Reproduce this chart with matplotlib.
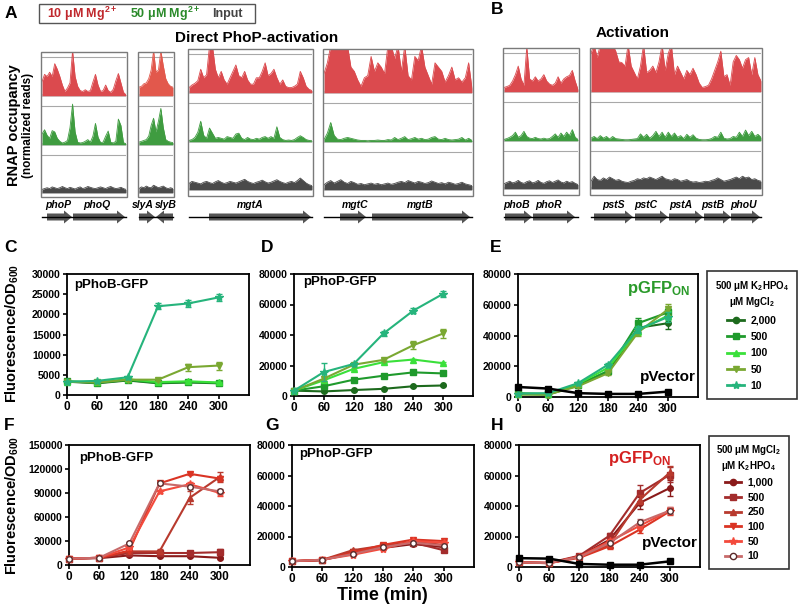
import numpy as np
import matplotlib
matplotlib.use('Agg')
import matplotlib.pyplot as plt
from matplotlib.patches import Rectangle, FancyArrow
from matplotlib.lines import Line2D
from matplotlib.ticker import FormatStrFormatter

plt.rcParams['font.family'] = ['Liberation Sans', 'DejaVu Sans']
plt.rcParams['font.weight'] = 'bold'
plt.rcParams['mathtext.fontset'] = 'custom'
plt.rcParams['mathtext.rm'] = 'Liberation Sans:bold'
plt.rcParams['mathtext.bf'] = 'Liberation Sans:bold'
plt.rcParams['mathtext.it'] = 'Liberation Sans:bold:italic'
plt.rcParams['mathtext.default'] = 'bf'

# ---------------- RNAP coverage tracks (normalized reads) ----------------
red1 = [0.33,0.50,0.45,0.55,0.45,0.75,0.62,0.45,0.25,0.10,0.18,0.30,1.05,0.45,0.22,0.12,0.10,0.14,
        0.10,0.12,0.32,0.50,0.25,0.10,0.12,0.25,0.12,0.08,0.15,0.35,0.52,0.30,0.08,0.02]
green1 = [0.25,0.35,0.22,0.15,0.33,0.30,0.15,0.08,0.04,0.06,0.10,0.40,0.95,0.30,0.06,0.04,0.05,0.08,
          0.12,0.06,0.20,0.50,0.18,0.05,0.06,0.20,0.32,0.06,0.04,0.08,0.60,0.45,0.05,0.02]
gray1 = [0.08,0.10,0.12,0.10,0.14,0.12,0.10,0.12,0.15,0.12,0.10,0.13,0.11,0.09,0.12,0.14,0.10,0.12,
         0.15,0.13,0.11,0.10,0.12,0.14,0.12,0.10,0.13,0.15,0.12,0.10,0.11,0.13,0.10,0.08]

red2 = [0.20,0.22,0.28,0.30,0.40,0.60,1.05,0.55,0.60,1.05,0.70,0.40,0.28,0.22,0.20]
green2 = [0.06,0.08,0.10,0.12,0.20,0.45,0.62,0.30,0.55,0.85,0.40,0.12,0.08,0.06,0.05]
gray2 = [0.10,0.14,0.12,0.16,0.13,0.12,0.18,0.15,0.12,0.14,0.16,0.12,0.10,0.12,0.10]

red3 = [0.12,0.18,0.22,0.28,0.55,0.35,0.42,1.10,1.10,0.55,0.35,0.50,0.30,0.20,0.35,0.50,0.65,0.40,
        0.35,0.50,0.30,0.20,0.20,0.35,0.35,0.50,0.70,0.40,0.45,0.55,0.35,0.20,0.30,0.15,0.12,0.12,
        0.15,0.20,0.50,0.35,0.15,0.08,0.05]
green3 = [0.03,0.05,0.10,0.22,0.48,0.15,0.08,0.32,0.20,0.08,0.10,0.08,0.06,0.12,0.10,0.08,0.18,0.20,
          0.08,0.05,0.10,0.06,0.05,0.08,0.06,0.10,0.12,0.08,0.12,0.08,0.35,0.10,0.05,0.03,0.04,0.03,
          0.05,0.10,0.14,0.10,0.05,0.03,0.02]
gray3 = [0.15,0.20,0.18,0.16,0.14,0.18,0.20,0.17,0.15,0.19,0.22,0.18,0.15,0.17,0.20,0.18,0.16,0.19,
         0.22,0.25,0.20,0.17,0.15,0.18,0.20,0.23,0.19,0.16,0.18,0.21,0.24,0.20,0.17,0.15,0.18,0.20,
         0.17,0.22,0.28,0.22,0.16,0.12,0.10]

red4 = [0.45,0.70,1.10,1.10,1.10,1.10,1.10,1.10,0.60,0.50,0.30,0.15,0.35,0.40,0.85,0.50,0.70,0.60,
        0.45,1.10,1.10,0.80,1.10,0.50,1.10,0.40,0.30,0.85,0.75,1.10,0.60,0.40,0.20,0.70,0.60,0.50,
        0.25,0.40,0.60,0.30,0.35,0.25,0.35,0.70,0.10]
green4 = [0.05,0.20,0.45,0.15,0.06,0.05,0.08,0.10,0.08,0.06,0.04,0.03,0.03,0.02,0.03,0.03,0.04,0.03,
          0.03,0.05,0.04,0.10,0.05,0.08,0.12,0.05,0.07,0.10,0.06,0.08,0.05,0.06,0.10,0.12,0.06,0.05,
          0.08,0.05,0.04,0.05,0.06,0.10,0.04,0.08,0.03]
gray4 = [0.12,0.18,0.22,0.16,0.20,0.24,0.18,0.15,0.20,0.17,0.13,0.15,0.12,0.14,0.16,0.13,0.15,0.12,
         0.14,0.16,0.13,0.15,0.18,0.20,0.17,0.22,0.19,0.16,0.20,0.18,0.15,0.17,0.21,0.18,0.15,0.17,
         0.14,0.18,0.16,0.13,0.15,0.18,0.14,0.12,0.10]

red5 = [0.10,0.12,0.15,0.25,0.40,0.60,0.30,0.15,1.05,0.30,0.25,0.35,0.25,0.30,0.40,0.25,0.18,0.15,
        0.20,0.35,0.20,0.30,0.35,0.38,0.50,0.25,0.05]
green5 = [0.03,0.05,0.08,0.12,0.20,0.08,0.12,0.22,0.10,0.06,0.05,0.08,0.05,0.04,0.06,0.04,0.05,0.10,
          0.16,0.08,0.18,0.10,0.20,0.12,0.26,0.08,0.03]
gray5 = [0.12,0.15,0.18,0.14,0.16,0.20,0.15,0.13,0.17,0.19,0.14,0.16,0.20,0.15,0.13,0.17,0.19,0.15,
         0.18,0.21,0.16,0.14,0.18,0.15,0.17,0.13,0.10]

red6 = [0.90,1.10,0.80,1.10,1.10,1.10,1.10,1.10,0.95,0.70,0.68,0.60,1.10,0.60,0.45,0.30,0.60,1.10,
        0.45,0.50,0.60,0.45,0.70,1.10,0.50,0.90,1.10,0.40,0.60,0.45,0.30,0.50,0.40,0.55,0.40,0.20,
        0.10,0.12,0.15,0.30,0.50,0.70,0.95,0.35,0.40,0.15,0.70,0.85,0.75,0.55,0.75,0.80,0.40,0.80,
        0.40,0.25]
green6 = [0.06,0.10,0.05,0.12,0.06,0.10,0.04,0.10,0.05,0.04,0.03,0.02,0.02,0.03,0.04,0.05,0.16,0.08,
          0.15,0.06,0.12,0.22,0.10,0.20,0.08,0.20,0.10,0.18,0.08,0.12,0.05,0.15,0.08,0.14,0.06,0.03,
          0.02,0.02,0.03,0.05,0.10,0.08,0.20,0.06,0.04,0.05,0.10,0.08,0.20,0.10,0.25,0.12,0.22,0.10,
          0.15,0.08]
gray6 = [0.18,0.30,0.22,0.20,0.26,0.22,0.28,0.24,0.20,0.22,0.18,0.16,0.15,0.18,0.20,0.24,0.22,0.26,
         0.24,0.28,0.25,0.22,0.26,0.30,0.24,0.22,0.20,0.24,0.22,0.18,0.20,0.22,0.18,0.16,0.17,0.15,
         0.16,0.18,0.17,0.20,0.22,0.26,0.22,0.18,0.20,0.22,0.25,0.28,0.24,0.30,0.26,0.28,0.22,0.24,
         0.20,0.18]

red_tracks = [red1, red2, red3, red4, red5, red6]
green_tracks = [green1, green2, green3, green4, green5, green6]
input_tracks = [gray1, gray2, gray3, gray4, gray5, gray6]

gene_names = ['phoP', 'phoQ', 'slyA', 'slyB', 'mgtA', 'mgtC', 'mgtB',
              'phoB', 'phoR', 'pstS', 'pstC', 'pstA', 'pstB', 'phoU']
gene_start = [47, 73, 139, 173, 209, 340, 372, 505, 533, 594, 635, 669, 704, 731]
gene_end = [72, 125, 155, 156, 311, 366, 470, 532, 575, 633, 668, 703, 731, 760]
gene_label_x = [58, 97, 143, 166, 250, 355, 420, 517, 549, 613, 646, 681, 713, 744]

# ---------------- GFP reporter time courses ----------------
times = [0, 60, 120, 180, 240, 300]
mg_labels = ['2,000', '500', '100', '50', '10']
pi_labels = ['1,000', '500', '250', '100', '50', '10']

C_mean = [[3300, 2900, 3600, 2900, 3100, 2900],
          [3400, 3000, 3700, 3000, 3200, 3000],
          [3300, 3200, 3900, 3200, 3400, 3100],
          [3300, 3100, 3800, 3800, 6900, 7300],
          [3300, 3500, 4400, 22000, 22700, 24200]]
C_err = [[200, 200, 300, 200, 200, 200],
         [200, 200, 300, 200, 200, 200],
         [200, 300, 300, 200, 300, 200],
         [200, 300, 300, 300, 900, 1000],
         [200, 300, 400, 700, 800, 800]]

D_mean = [[3500, 3000, 3900, 4700, 6400, 6900],
          [3500, 6400, 10700, 13300, 15500, 14800],
          [3500, 10300, 17800, 22200, 23900, 21500],
          [3500, 11400, 20500, 23700, 33300, 41000],
          [3500, 15700, 21000, 41000, 56000, 67000]]
D_err = [[300, 300, 300, 300, 400, 400],
         [300, 600, 600, 600, 600, 600],
         [300, 1000, 600, 600, 600, 600],
         [300, 1500, 800, 1000, 2500, 3000],
         [300, 6000, 800, 1500, 1500, 2000]]

E_mean = [[2000, 1500, 7500, 16000, 45000, 48000],
          [2500, 2000, 8000, 17000, 48000, 55000],
          [2000, 1800, 8500, 19000, 43000, 53000],
          [1500, 1600, 7000, 15500, 42000, 57000],
          [2200, 2500, 9000, 21000, 44000, 52000]]
E_err = [[300, 300, 600, 1000, 3000, 3500],
         [300, 300, 600, 1000, 3500, 3000],
         [300, 300, 600, 1000, 2500, 3000],
         [300, 300, 600, 1000, 2500, 3500],
         [300, 300, 600, 1000, 2500, 3000]]
E_vector = [6500, 5500, 2500, 2000, 2000, 3500]
E_vector_err = [500, 400, 300, 300, 300, 400]

F_mean = [[8000, 8500, 12000, 11000, 11000, 9000],
          [8000, 9000, 15000, 15000, 15000, 16000],
          [8000, 9000, 17000, 17000, 84000, 110000],
          [8000, 9000, 18000, 102000, 114000, 108000],
          [8000, 9000, 22000, 92000, 101000, 90000],
          [8000, 9000, 27000, 102000, 98000, 92000]]
F_err = [[800, 800, 1000, 1000, 1000, 1500],
         [800, 800, 1000, 1000, 1500, 4000],
         [800, 800, 1000, 3000, 8000, 6000],
         [800, 800, 1000, 2000, 2000, 3000],
         [800, 800, 1000, 2000, 3000, 4000],
         [800, 800, 1500, 2000, 3000, 3000]]

G_mean = [[3800, 4500, 9000, 12500, 15000, 13000],
          [3800, 4500, 10000, 13500, 16000, 11000],
          [3800, 4700, 11000, 14000, 16500, 14500],
          [3800, 4600, 9500, 14500, 18000, 17000],
          [3800, 4800, 8000, 12000, 17000, 16000],
          [3800, 4700, 8500, 13000, 16000, 14000]]
G_err = [[300, 300, 600, 600, 800, 800]] * 6

H_mean = [[3000, 2500, 7000, 17900, 42000, 51800],
          [3000, 2800, 7400, 20500, 48500, 60500],
          [3000, 2600, 6500, 14600, 44000, 62000],
          [3000, 2500, 6000, 13600, 24500, 36500],
          [3000, 2700, 6800, 16800, 27000, 37000],
          [3000, 2600, 6500, 15700, 29300, 37000]]
H_err = [[300, 300, 600, 1500, 4000, 5000],
         [300, 300, 600, 1500, 5000, 5000],
         [300, 300, 600, 1500, 3000, 4000],
         [300, 300, 600, 1500, 2000, 2500],
         [300, 300, 600, 1500, 2000, 2500],
         [300, 300, 600, 1500, 2000, 2500]]
H_vector = [5800, 5500, 2000, 1500, 1500, 3700]
H_vector_err = [500, 400, 300, 300, 300, 400]

green_cols = ['#1d6a1d', '#1f9a2c', '#3ae03a', '#7aa832', '#26b47c']
green_mk = ['o', 's', '^', 'v', '*']
red_cols = ['#8a1a1a', '#a32c2c', '#b83a2e', '#da3424', '#f34a3c', '#c86a6a']
red_mk = ['o', 's', '^', 'v', '*', 'o']

W, H = 800, 605
fig = plt.figure(figsize=(8, 6.05), dpi=100)


def pax(x0, y0, x1, y1):
    return fig.add_axes([x0 / W, 1 - y1 / H, (x1 - x0) / W, (y1 - y0) / H])


# boxes: left, right, top, bottom (pixels)
boxes = [(41, 127, 52, 197), (138, 174, 52, 197), (188, 313, 49, 196),
         (323, 473, 49, 196), (503, 579, 48, 195), (590, 762, 48, 195)]
track_cols = ['#db4a4e', '#3f9c40', '#4a4a4a']

for i, (x0, x1, top, bot) in enumerate(boxes):
    sets = [red_tracks[i], green_tracks[i], input_tracks[i]]
    rows = [(top + 1, top + 45), (top + 50, top + 94), (top + 99, top + 142)]
    for j, (vals, (t, b)) in enumerate(zip(sets, rows)):
        ax = pax(x0 + 1, t, x1 - 1, b)
        xs = np.arange(len(vals))
        c = track_cols[j]
        if i == 1 and j == 0:
            c = '#e2584c'
        ax.axhline(0.0, color='#cfcfcf', lw=3, zorder=0)
        ax.fill_between(xs, vals, color=c, lw=0, zorder=2)
        ax.plot(xs, vals, color=c, lw=0.6, zorder=2)
        ax.axhline(0.9, color='#a8a8a8', lw=0.8, zorder=1)
        ax.set_xlim(0, len(vals) - 1)
        ax.set_ylim(-0.03, 1.0)
        ax.axis('off')


def style(ax, ymax, ystep):
    ax.set_xlim(0, 360)
    ax.set_ylim(0, ymax)
    ax.set_xticks(times)
    ax.set_yticks(np.arange(0, ymax + 1, ystep))
    ax.yaxis.set_major_formatter(FormatStrFormatter('%d'))
    for s in ax.spines.values():
        s.set_linewidth(1.3)
    ax.tick_params(axis='both', length=3, width=1.2, direction='out', pad=1.5)
    ax.tick_params(axis='x', labelsize=8.5)
    ax.tick_params(axis='y', labelsize=7.5)
    for lab in ax.get_xticklabels() + ax.get_yticklabels():
        lab.set_fontweight('bold')


def draw(ax, means, errs, cols, mks, open_last=False):
    for k, (m, e) in enumerate(zip(means, errs)):
        mfc = cols[k]
        mec = cols[k]
        if open_last and k == len(means) - 1:
            mfc = 'white'
            mec = '#5a2a2a'
        ms = 6 if mks[k] == '*' else 4
        ax.errorbar(times, m, yerr=e, color=cols[k], marker=mks[k], ms=ms, mfc=mfc, mec=mec,
                    lw=1.5, elinewidth=1, capsize=2.5, clip_on=False, zorder=3 + k)


axC = pax(67, 274, 249, 395)
draw(axC, C_mean, C_err, green_cols, green_mk)
style(axC, 30000, 5000)

axD = pax(294, 274, 473, 396)
draw(axD, D_mean, D_err, green_cols, green_mk)
style(axD, 80000, 20000)

axE = pax(518, 274, 698, 397)
draw(axE, E_mean, E_err, green_cols, green_mk)
axE.errorbar(times, E_vector, yerr=E_vector_err, color='black', marker='s', ms=4.5, lw=1.8,
             elinewidth=1, capsize=2.5, clip_on=False, zorder=10)
style(axE, 80000, 20000)

axF = pax(69, 445, 250, 565)
draw(axF, F_mean, F_err, red_cols, red_mk, open_last=True)
style(axF, 150000, 30000)

axG = pax(292, 445, 474, 567)
draw(axG, G_mean, G_err, red_cols, red_mk, open_last=True)
style(axG, 80000, 20000)

axH = pax(519, 445, 700, 567)
draw(axH, H_mean, H_err, red_cols, red_mk, open_last=True)
axH.errorbar(times, H_vector, yerr=H_vector_err, color='black', marker='s', ms=4.5, lw=1.8,
             elinewidth=1, capsize=2.5, clip_on=False, zorder=10)
style(axH, 80000, 20000)

# legends
g_handles = [Line2D([], [], color=green_cols[k], marker=green_mk[k], lw=2,
                    ms=6 if green_mk[k] == '*' else 4.5) for k in range(5)]
legE = fig.legend(g_handles, mg_labels, title='500 μM K$_2$HPO$_4$\nμM MgCl$_2$',
                  loc='upper left', bbox_to_anchor=(707 / W, 1 - 271 / H), frameon=True,
                  fancybox=False, edgecolor='black', fontsize=7.5, title_fontsize=7,
                  handlelength=1.6, labelspacing=0.62, borderpad=0.75, handletextpad=0.6,
                  borderaxespad=0, alignment='center')
legE.get_frame().set_linewidth(1.2)
legE.get_title().set_fontweight('bold')
legE.get_title().set_multialignment('center')

r_handles = []
for k in range(6):
    mfc = 'white' if k == 5 else red_cols[k]
    mec = '#5a2a2a' if k == 5 else red_cols[k]
    r_handles.append(Line2D([], [], color=red_cols[k], marker=red_mk[k], lw=2, mfc=mfc, mec=mec,
                            ms=6 if red_mk[k] == '*' else 4.5))
legH = fig.legend(r_handles, pi_labels, title='500 μM MgCl$_2$\nμM K$_2$HPO$_4$',
                  loc='upper left', bbox_to_anchor=(709 / W, 1 - 436 / H), frameon=True,
                  fancybox=False, edgecolor='black', fontsize=7.5, title_fontsize=7,
                  handlelength=1.6, labelspacing=0.45, borderpad=0.7, handletextpad=0.6,
                  borderaxespad=0, alignment='center')
legH.get_frame().set_linewidth(1.2)
legH.get_title().set_fontweight('bold')
legH.get_title().set_multialignment('center')

# ---------------- overlay for annotations ----------------
ov = fig.add_axes([0, 0, 1, 1])
ov.set_xlim(0, W)
ov.set_ylim(H, 0)
ov.axis('off')
ov.patch.set_alpha(0)

for (x0, x1, top, bot) in boxes:
    ov.add_patch(Rectangle((x0, top), x1 - x0, bot - top, fill=False, ec='#7a7a7a', lw=1))
    ov.plot([x0 + 1, x1 - 1], [217, 217], color='black', lw=1)

for name, s, e, lx in zip(gene_names, gene_start, gene_end, gene_label_x):
    ov.add_patch(FancyArrow(s, 217, e - s, 0, width=7, head_width=13, head_length=8,
                            length_includes_head=True, color='#555555', lw=0))
    ov.text(lx, 205, name, ha='center', va='center', fontsize=7.5, style='italic',
            fontweight='bold')

# top legend for tracks
ov.add_patch(Rectangle((39, 4), 216, 19, fill=False, ec='#555555', lw=1))
ov.text(47, 14, '10 μM Mg$^{2+}$', color='#c0282d', fontsize=9, va='center')
ov.text(130, 14, '50 μM Mg$^{2+}$', color='#2a8a2a', fontsize=9, va='center')
ov.text(212, 14, 'Input', color='#444444', fontsize=9, va='center')

ov.text(257, 38, 'Direct PhoP-activation', fontsize=11, ha='center', va='center')
ov.text(633, 33, 'Activation', fontsize=11, ha='center', va='center')
ov.text(14, 125, 'RNAP occupancy', fontsize=10.5, rotation=90, ha='center', va='center')
ov.text(28, 125, '(normalized reads)', fontsize=8.5, rotation=90, ha='center', va='center')

for letter, x, y in [('A', 5, 13), ('B', 491, 10), ('C', 4, 248), ('D', 261, 248),
                     ('E', 490, 248), ('F', 4, 425), ('G', 265, 425), ('H', 491, 425)]:
    ov.text(x, y, letter, fontsize=12.5, ha='left', va='center')

ov.text(12, 333, 'Fluorescence/OD$_{600}$', fontsize=10.5, rotation=90, ha='center', va='center')
ov.text(12, 505, 'Fluorescence/OD$_{600}$', fontsize=10.5, rotation=90, ha='center', va='center')
ov.text(382, 595, 'Time (min)', fontsize=13, ha='center', va='center')

ov.text(74, 285, 'pPhoB-GFP', fontsize=9.5, va='center')
ov.text(303, 282, 'pPhoP-GFP', fontsize=9.5, va='center')
ov.text(79, 458, 'pPhoB-GFP', fontsize=9.5, va='center')
ov.text(299, 454, 'pPhoP-GFP', fontsize=9.5, va='center')
ov.text(627, 288, 'pGFP$_{ON}$', fontsize=12, color='#2a9a2a', va='center')
ov.text(640, 377, 'pVector', fontsize=11, va='center')
ov.text(608, 458, 'pGFP$_{ON}$', fontsize=12, color='#d42020', va='center')
ov.text(642, 543, 'pVector', fontsize=11, va='center')

fig.savefig('out.png', dpi=100)
